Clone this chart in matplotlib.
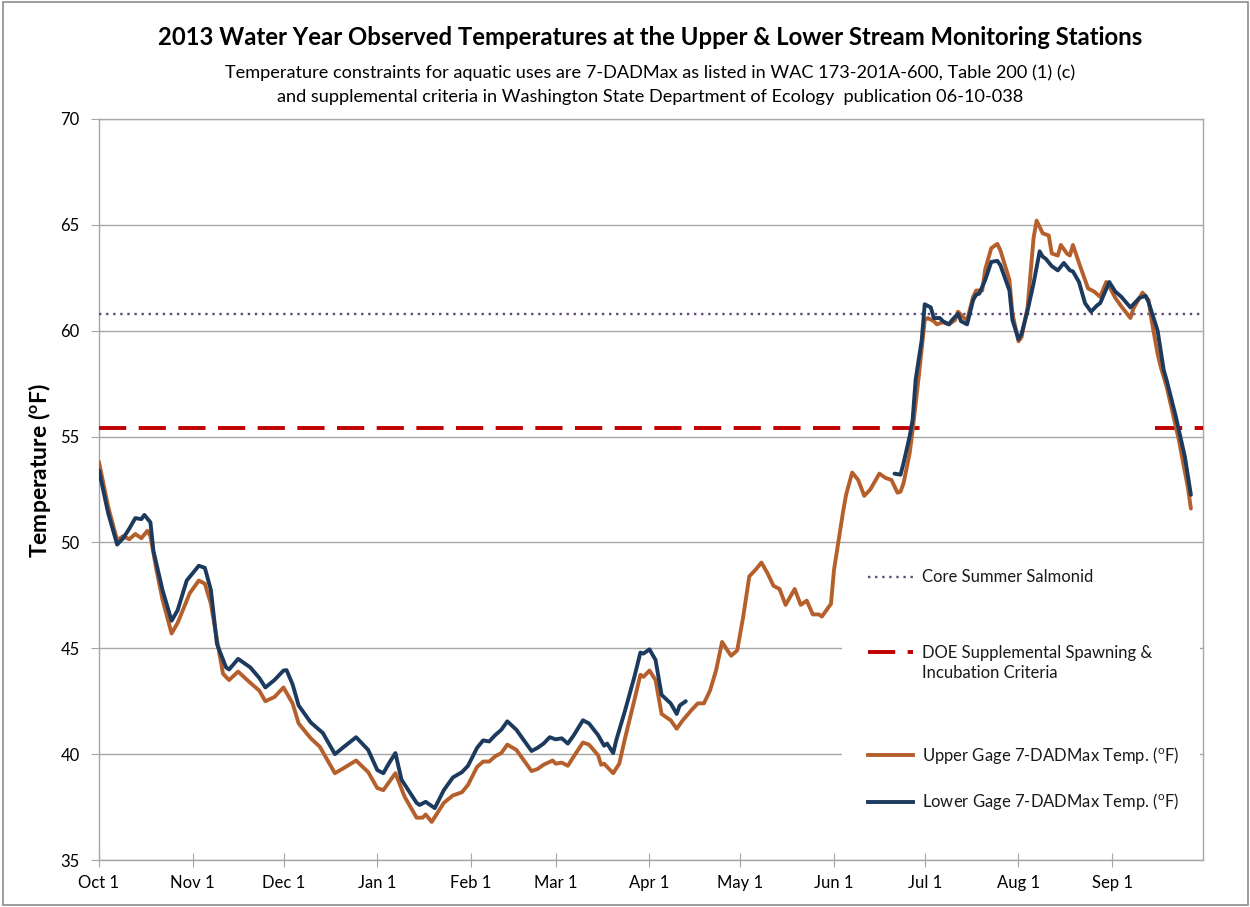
import matplotlib
matplotlib.use('Agg')
import matplotlib.pyplot as plt
from matplotlib.patches import Rectangle
import numpy as np
import pandas as pd

plt.rcParams['font.family'] = ['Lato', 'DejaVu Sans']
plt.rcParams['mathtext.fontset'] = 'custom'
plt.rcParams['mathtext.rm'] = 'Lato'
plt.rcParams['mathtext.bf'] = 'Lato:bold'

start = pd.Timestamp('2012-10-01')

# days since Oct 1 2012 / 7-DADMax temperature (F)
upper_days = [0, 3, 6, 8, 10, 12, 14, 16, 17, 19, 21, 24, 26, 30, 33, 35, 37, 39, 41, 43,
              46, 49, 53, 55, 58, 61, 64, 66, 70, 73, 78, 81, 85, 89, 92, 94, 98, 101, 105, 107,
              108, 110, 114, 117, 120, 122, 125, 127, 129, 131, 133, 135, 138, 143, 145, 147, 150, 151, 153, 155,
              157, 160, 162, 165, 166, 167, 170, 172, 174, 177, 179, 180, 182, 184, 186, 189, 191, 193, 196, 198,
              200, 202, 204, 206, 208, 209, 211, 213, 215, 217, 219, 221, 223, 225, 227, 230, 232, 234, 236, 238,
              239, 242, 243, 246, 247, 249, 251, 253, 255, 258, 260, 262, 264, 265, 266, 268, 269, 271, 273, 274,
              276, 277, 279, 281, 283, 284, 286, 287, 289, 290, 292, 293, 295, 297, 298, 301, 302, 304, 305, 307,
              309, 310, 312, 314, 315, 317, 318, 320, 321, 322, 324, 326, 327, 329, 331, 333, 334, 336, 338, 341,
              342, 344, 345, 347, 348, 350, 351, 353, 355, 357, 360, 361]
upper_temp = [53.8, 51.7, 50.1, 50.3, 50.15, 50.4, 50.2, 50.55, 50.3, 48.7, 47.3, 45.7, 46.2, 47.6, 48.2, 48.05, 47.1, 45.4, 43.8, 43.5,
              43.9, 43.5, 43.0, 42.5, 42.7, 43.15, 42.4, 41.45, 40.75, 40.35, 39.1, 39.35, 39.7, 39.15, 38.4, 38.3, 39.1, 38.0, 37.0, 37.0,
              37.15, 36.8, 37.7, 38.05, 38.2, 38.55, 39.4, 39.65, 39.65, 39.9, 40.05, 40.45, 40.2, 39.2, 39.3, 39.5, 39.7, 39.55, 39.6, 39.45,
              39.9, 40.55, 40.45, 39.95, 39.5, 39.55, 39.1, 39.55, 40.8, 42.55, 43.75, 43.65, 43.95, 43.5, 41.9, 41.6, 41.2, 41.6, 42.1, 42.4,
              42.4, 43.0, 43.95, 45.3, 44.85, 44.65, 44.9, 46.5, 48.4, 48.7, 49.05, 48.55, 47.95, 47.8, 47.05, 47.8, 47.05, 47.25, 46.6, 46.6,
              46.5, 47.1, 48.7, 51.45, 52.25, 53.3, 52.95, 52.2, 52.5, 53.25, 53.05, 52.95, 52.35, 52.4, 52.8, 54.2, 55.3, 57.8, 60.5, 60.6,
              60.45, 60.3, 60.4, 60.3, 60.5, 60.9, 60.6, 60.5, 61.6, 61.9, 61.9, 62.9, 63.9, 64.1, 63.8, 62.4, 60.8, 59.5, 59.7, 61.1,
              64.4, 65.2, 64.6, 64.5, 63.65, 63.55, 64.05, 63.65, 63.55, 64.05, 63.2, 62.4, 62.0, 61.85, 61.6, 62.3, 62.1, 61.55, 61.15, 60.6,
              61.05, 61.55, 61.8, 61.45, 60.5, 58.9, 58.3, 57.35, 56.1, 54.85, 52.6, 51.6]

lower_days = [0, 3, 6, 8, 10, 12, 14, 15, 17, 18, 21, 24, 26, 29, 33, 35, 37, 39, 42, 43,
              46, 50, 53, 55, 58, 61, 62, 64, 66, 70, 74, 78, 81, 85, 89, 92, 94, 96, 98, 100,
              105, 106, 108, 111, 114, 117, 120, 122, 125, 127, 129, 131, 133, 135, 138, 143, 145, 147, 149, 151,
              153, 155, 157, 160, 162, 165, 167, 168, 170, 171, 174, 177, 179, 180, 182, 184, 186, 189, 191, 192,
              194, 230, 263, 265, 266, 268, 269, 270, 272, 273, 275, 276, 278, 279, 281, 282, 284, 285, 287, 289,
              290, 291, 293, 295, 297, 298, 301, 302, 304, 305, 307, 309, 311, 312, 313, 315, 317, 319, 321, 322,
              324, 326, 328, 330, 331, 334, 336, 338, 341, 344, 346, 347, 350, 352, 353, 356, 359, 361]
lower_temp = [53.4, 51.4, 49.9, 50.2, 50.65, 51.15, 51.1, 51.3, 50.95, 49.6, 47.75, 46.3, 46.8, 48.2, 48.9, 48.8, 47.75, 45.2, 44.1, 44.0,
              44.5, 44.1, 43.6, 43.15, 43.5, 43.95, 43.97, 43.3, 42.3, 41.5, 41.0, 40.0, 40.35, 40.8, 40.2, 39.25, 39.1, 39.6, 40.05, 38.8,
              37.7, 37.6, 37.75, 37.45, 38.3, 38.9, 39.15, 39.45, 40.3, 40.65, 40.6, 40.9, 41.15, 41.55, 41.15, 40.15, 40.3, 40.5, 40.8, 40.7,
              40.75, 40.5, 40.9, 41.6, 41.45, 40.9, 40.4, 40.5, 40.05, 40.65, 42.1, 43.65, 44.8, 44.75, 44.95, 44.45, 42.8, 42.4, 41.9, 42.3,
              42.5, np.nan, 53.25, 53.2, 53.75, 55.0, 55.8, 57.7, 59.55, 61.25, 61.1, 60.6, 60.6, 60.45, 60.3, 60.5, 60.8, 60.45, 60.3, 61.45,
              61.7, 61.75, 62.4, 63.25, 63.3, 63.1, 61.9, 60.5, 59.6, 59.85, 60.95, 62.25, 63.75, 63.5, 63.4, 63.05, 62.85, 63.2, 62.85, 62.8,
              62.3, 61.3, 60.9, 61.2, 61.3, 62.3, 61.85, 61.6, 61.1, 61.55, 61.65, 61.35, 60.0, 58.15, 57.65, 55.95, 54.05, 52.25]

core_salmonid = 60.8
spawning_criteria = 55.4
spawning_periods = [('2012-10-01', '2013-07-01'), ('2013-09-15', '2013-10-01')]

month_labels = ['Oct 1', 'Nov 1', 'Dec 1', 'Jan 1', 'Feb 1', 'Mar 1',
                'Apr 1', 'May 1', 'Jun 1', 'Jul 1', 'Aug 1', 'Sep 1']

upper_color = '#b5602c'
lower_color = '#1c3a5e'
red = '#c00000'
purple = '#604a7b'
grid_gray = '#a6a6a6'

upper_dates = start + pd.to_timedelta(upper_days, unit='D')
lower_dates = start + pd.to_timedelta(lower_days, unit='D')
x0, x1 = start, pd.Timestamp('2013-10-01')

fig = plt.figure(figsize=(12.5, 9.07), dpi=100)
ax = fig.add_axes([0.0792, 0.0518, 0.8832, 0.8170])

ax.plot([x0, x1], [core_salmonid] * 2, color=purple, lw=1.7, dashes=(1, 2), zorder=3)
for a, b in spawning_periods:
    ax.plot([pd.Timestamp(a), pd.Timestamp(b)], [spawning_criteria] * 2, color=red, lw=2.8,
            dashes=(7, 3.2), dash_capstyle='butt', zorder=3)
ax.plot(upper_dates, upper_temp, color=upper_color, lw=2.8, solid_joinstyle='round',
        solid_capstyle='round', zorder=4)
ax.plot(lower_dates, lower_temp, color=lower_color, lw=2.8, solid_joinstyle='round',
        solid_capstyle='round', zorder=5)

ax.set_xlim(x0, x1)
ax.set_ylim(35, 70)
ax.set_yticks(range(35, 71, 5))
ticks = pd.date_range(x0, periods=12, freq='MS')
ax.set_xticks(ticks)
ax.set_xticklabels(month_labels)
ax.tick_params(axis='x', direction='inout', length=10, color=grid_gray, labelsize=12, pad=6)
ax.tick_params(axis='y', direction='out', length=6, color=grid_gray, labelsize=12, pad=8)
ax.grid(axis='y', color=grid_gray, lw=1)
ax.set_axisbelow(True)
for s in ax.spines.values():
    s.set_color(grid_gray)
    s.set_linewidth(1)

ax.set_ylabel(r'Temperature ($\mathbf{^o}$F)', fontsize=16.5, fontweight='bold')
ax.yaxis.set_label_coords(-0.042, 0.525)

# legend area (white box over gridlines), drawn by hand to match spacing
ax.add_patch(Rectangle((0.673, 0.04), 0.324, 0.37, transform=ax.transAxes,
                       facecolor='white', edgecolor='none', zorder=1))
legend_items = [
    (0.3819, 0.3819, 'Core Summer Salmonid', dict(color=purple, lw=1.7, dashes=(1, 2))),
    (0.2807, 0.2659, 'DOE Supplemental Spawning &\nIncubation Criteria',
     dict(color=red, lw=2.8, dashes=(7, 3.2), dash_capstyle='butt')),
    (0.1417, 0.1417, r'Upper Gage 7-DADMax Temp. ($^{\rm o}$F)', dict(color=upper_color, lw=2.8)),
    (0.0783, 0.0783, r'Lower Gage 7-DADMax Temp. ($^{\rm o}$F)', dict(color=lower_color, lw=2.8)),
]
for y_line, y_text, label, style in legend_items:
    ax.plot([0.6966, 0.7373], [y_line, y_line], transform=ax.transAxes, clip_on=False, zorder=6, **style)
    ax.text(0.7455, y_text, label, transform=ax.transAxes, fontsize=12, va='center',
            ha='left', color='#1a1a1a', linespacing=1.35, zorder=6)

fig.text(0.52, 0.9592, '2013 Water Year Observed Temperatures at the Upper & Lower Stream Monitoring Stations',
         ha='center', va='center', fontsize=17.2, fontweight='bold')
fig.text(0.52, 0.9195, 'Temperature constraints for aquatic uses are 7-DADMax as listed in WAC 173-201A-600, Table 200 (1) (c)',
         ha='center', va='center', fontsize=13.1)
fig.text(0.52, 0.8931, 'and supplemental criteria in Washington State Department of Ecology  publication 06-10-038',
         ha='center', va='center', fontsize=13.1)

fig.patches.append(Rectangle((0.002, 0.002), 0.996, 0.996, transform=fig.transFigure,
                             facecolor='none', edgecolor='#8c8c8c', lw=1.2))

fig.savefig('out.png', dpi=100)
